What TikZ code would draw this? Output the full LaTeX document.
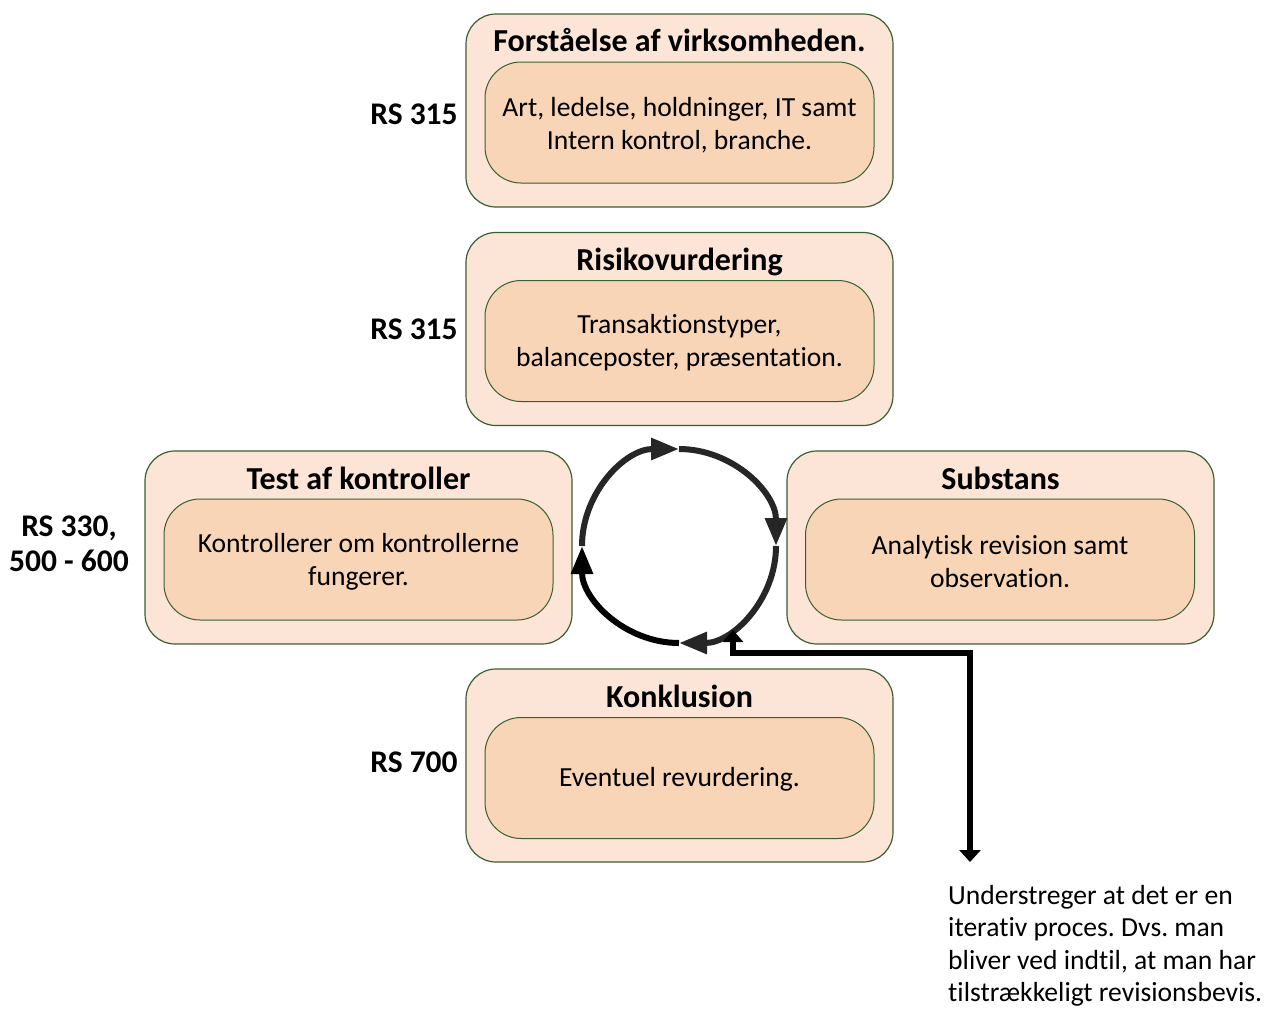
\documentclass[tikz,border=0pt]{standalone}
\usepackage{fontspec}
\setmainfont{Carlito}[Ligatures={NoCommon}]
\frenchspacing
\usetikzlibrary{arrows.meta}
\definecolor{outerfill}{HTML}{FCE4D6}
\definecolor{innerfill}{HTML}{F8D5B6}
\definecolor{boxline}{HTML}{3A5F30}
\definecolor{arcgray}{HTML}{262626}
\begin{document}
\begin{tikzpicture}[x=1pt,y=-1pt,
  outerbox/.style={draw=boxline, line width=1.2pt, fill=outerfill, rounded corners=30pt,
    minimum width=427pt, minimum height=193pt, inner sep=0pt},
  innerbox/.style={draw=boxline, line width=1pt, fill=innerfill, rounded corners=36pt,
    minimum width=389pt, minimum height=121pt, inner sep=0pt},
  innertext/.style={align=center, inner sep=0pt, font=\fontsize{27.6}{33}\selectfont},
  titletext/.style={anchor=base, font=\bfseries\fontsize{32}{36}\selectfont},
  rslabel/.style={font=\bfseries\fontsize{31.5}{35}\selectfont, align=center},
  cyc/.style={line width=6pt, -{Triangle[length=28pt,width=21pt]}},
  conn/.style={line width=6pt, {Triangle[length=12pt,width=20pt]}-{Triangle[length=12pt,width=21pt]}},
]
\useasboundingbox (0,0) rectangle (1277,1009);

% Box 1
\node[outerbox] (o1) at (679.5,110.5) {};
\node[titletext] (t1) at (679.5,51) {Forståelse af virksomheden.};
\node[innerbox] (i1) at (679.5,122.5) {};
\node[innertext] (x1) at (679.5,125) {Art, ledelse, holdninger, IT samt\\Intern kontrol, branche.};
\node[rslabel, anchor=base] (r1) at (414,124) {RS 315};

% Box 2
\node[outerbox] (o2) at (679.5,329) {};
\node[titletext] (t2) at (679.5,270) {Risikovurdering};
\node[innerbox] (i2) at (679.5,341) {};
\node[innertext] (x2) at (679.5,343) {Transaktionstyper,\\balanceposter, præsentation.};
\node[rslabel, anchor=base] (r2) at (414,339) {RS 315};

% Box 3
\node[outerbox] (o3) at (358.5,547.5) {};
\node[titletext] (t3) at (358.5,489) {Test af kontroller};
\node[innerbox] (i3) at (358.5,559.5) {};
\node[innertext] (x3) at (358.5,561.5) {Kontrollerer om kontrollerne\\fungerer.};
\node[rslabel] (r3) at (69,544) {RS 330,\\500 - 600};

% Box 4
\node[outerbox] (o4) at (1000.5,547.5) {};
\node[titletext] (t4) at (1000.5,489) {Substans};
\node[innerbox] (i4) at (1000,559.5) {};
\node[innertext] (x4) at (1000,561.5) {Analytisk revision samt\\observation.};

% Box 5
\node[outerbox] (o5) at (679.5,765.5) {};
\node[titletext] (t5) at (679.5,707) {Konklusion};
\node[innerbox] (i5) at (679.5,778) {};
\node[innertext] (x5) at (679.5,779) {Eventuel revurdering.};
\node[rslabel, anchor=base] (r5) at (414,772) {RS 700};

% Cycle
\coordinate (c) at (679,546);
\draw[cyc, arcgray] (c) ++(180:97) arc[start angle=180, end angle=270, radius=97];
\draw[cyc, arcgray] (c) ++(270:97) arc[start angle=270, end angle=360, radius=97];
\draw[cyc, arcgray] (c) ++(0:97) arc[start angle=0, end angle=90, radius=97];
\draw[cyc, black] (c) ++(90:97) arc[start angle=90, end angle=180, radius=97];

% Connector
\coordinate (up) at (733,630);
\coordinate (k) at (970,653);
\coordinate (dn) at (970,862);
\draw[conn] (up) |- (k) -- (dn);

\node[anchor=north west, align=left, inner sep=0pt, font=\fontsize{27.6}{32.5}\selectfont] (note) at (948,885)
  {Understreger at det er en\\iterativ proces. Dvs. man\\bliver ved indtil, at man har\\tilstrækkeligt revisionsbevis.};
\end{tikzpicture}
\end{document}
